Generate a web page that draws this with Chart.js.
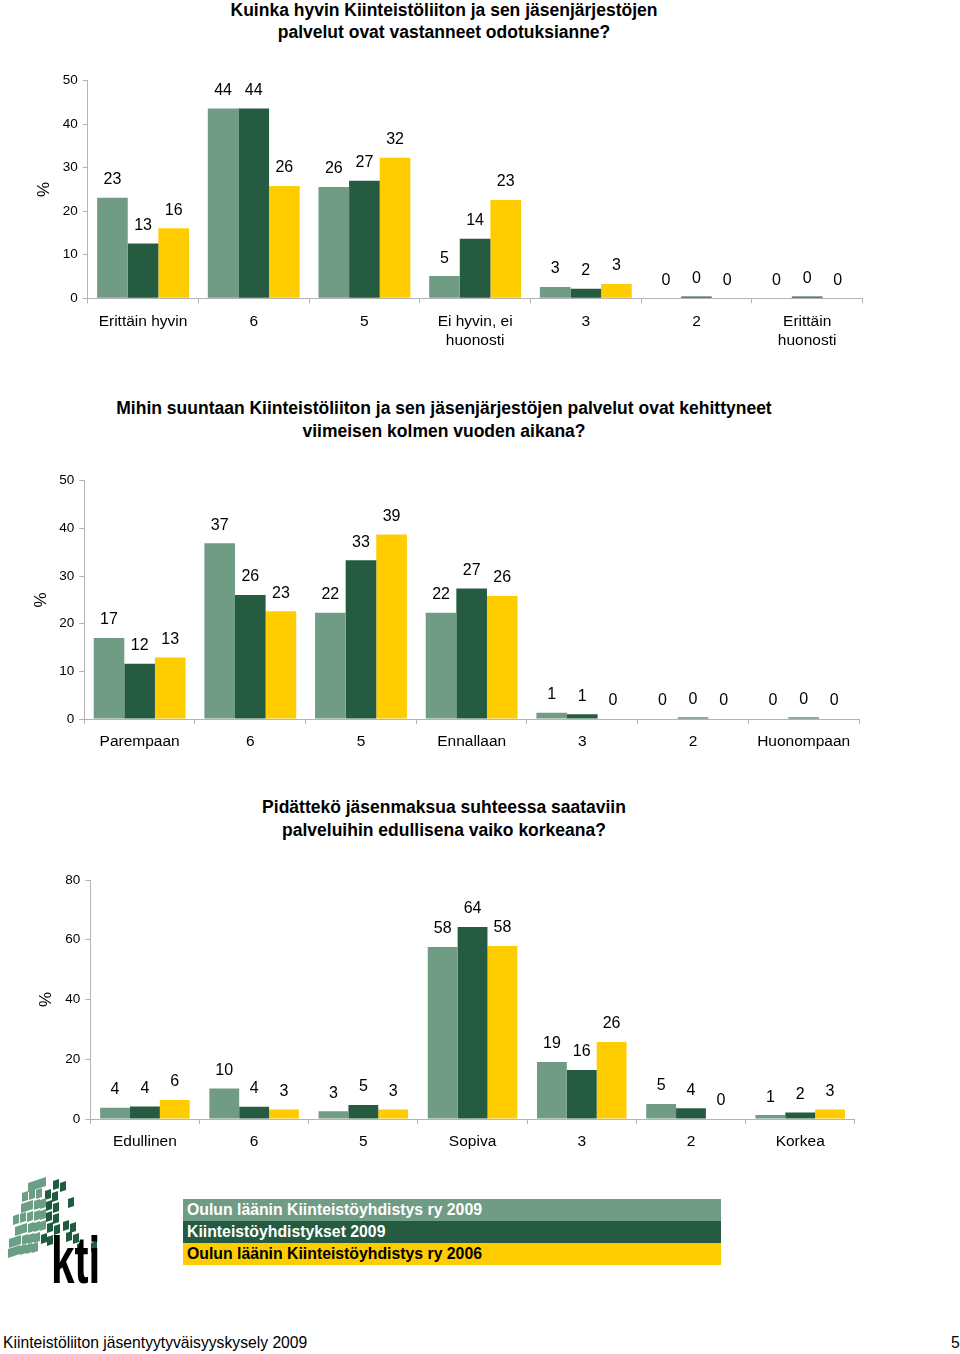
<!DOCTYPE html>
<html>
<head>
<meta charset="utf-8">
<script src="https://cdn.jsdelivr.net/npm/chart.js@4.4.0/dist/chart.umd.min.js"></script>
<style>
  body { margin: 0; background: #fff; width: 960px; height: 1354px; position: relative; overflow: hidden; font-family: "Liberation Sans", Arial, sans-serif; }
  .title { position: absolute; left: 0; width: 888px; text-align: center; font: bold 17.5px "Liberation Sans Narrow", "Arial Narrow", "Liberation Sans", sans-serif; line-height: 23px; color: #000; }
  .box { position: absolute; left: 0; }
  .legend { position: absolute; left: 183px; top: 1199px; width: 538px; }
  .legend div { height: 20px; padding-top: 2px; line-height: 22px; padding-left: 4px; font: bold 15.8px "Liberation Sans Narrow", "Arial Narrow", "Liberation Sans", sans-serif; overflow: hidden; }
  .logo { position: absolute; left: 0; top: 1170px; width: 110px; height: 120px; }
  .logo span { position: absolute; width: 6px; height: 9px; transform: skewY(-20deg); }
  .kti { position: absolute; left: 51px; top: 1227px; font: bold 66px "Liberation Sans Narrow", "Arial Narrow", "Liberation Sans", sans-serif; line-height: 66px; color: #000; transform: scaleX(0.64); transform-origin: left top; }
  .footer { position: absolute; top: 1334px; font: 15.7px "Liberation Sans Narrow", "Arial Narrow", "Liberation Sans", sans-serif; color: #000; }
</style>
</head>
<body>

<div class="title" style="top:-1px;line-height:22px">Kuinka hyvin Kiinteistöliiton ja sen jäsenjärjestöjen<br>palvelut ovat vastanneet odotuksianne?</div>
<div class="box" style="top:60px"><canvas id="chart1" width="870" height="300"></canvas></div>

<div class="title" style="top:397px">Mihin suuntaan Kiinteistöliiton ja sen jäsenjärjestöjen palvelut ovat kehittyneet<br>viimeisen kolmen vuoden aikana?</div>
<div class="box" style="top:460px"><canvas id="chart2" width="870" height="304"></canvas></div>

<div class="title" style="top:796px">Pidättekö jäsenmaksua suhteessa saataviin<br>palveluihin edullisena vaiko korkeana?</div>
<div class="box" style="top:860px"><canvas id="chart3" width="870" height="304"></canvas></div>

<div class="logo" id="logo"></div>
<div class="kti">kti</div>

<div class="legend">
  <div style="background:#709c86;color:#fff">Oulun läänin Kiinteistöyhdistys ry 2009</div>
  <div style="background:#245b41;color:#fff">Kiinteistöyhdistykset 2009</div>
  <div style="background:#ffcc00;color:#000">Oulun läänin Kiinteistöyhdistys ry 2006</div>
</div>

<div class="footer" style="left:3px">Kiinteistöliiton jäsentyytyväisyyskysely 2009</div>
<div class="footer" style="left:951px">5</div>

<script>
  var seriesNames = [
    'Oulun läänin Kiinteistöyhdistys ry 2009',
    'Kiinteistöyhdistykset 2009',
    'Oulun läänin Kiinteistöyhdistys ry 2006'
  ];
  var colors = ['#709c86', '#245b41', '#ffcc00'];

  // Kuinka hyvin ... vastanneet odotuksianne?
  var labels1 = ['Erittäin hyvin', '6', '5', ['Ei hyvin, ei', 'huonosti'], '3', '2', ['Erittäin', 'huonosti']];
  var oulu2009_1 = [23.1, 43.6, 25.6, 5.1, 2.6, 0, 0];
  var kaikki2009_1 = [12.6, 43.6, 27.0, 13.7, 2.2, 0.4, 0.4];
  var oulu2006_1 = [16.1, 25.8, 32.3, 22.6, 3.3, 0, 0];

  // Mihin suuntaan ... kehittyneet?
  var labels2 = ['Parempaan', '6', '5', 'Ennallaan', '3', '2', 'Huonompaan'];
  var oulu2009_2 = [17.0, 36.9, 22.3, 22.3, 1.3, 0, 0];
  var kaikki2009_2 = [11.6, 26.0, 33.3, 27.4, 1.0, 0.3, 0.3];
  var oulu2006_2 = [12.9, 22.6, 38.7, 25.8, 0, 0, 0];

  // Pidättekö jäsenmaksua ... edullisena vaiko korkeana?
  var labels3 = ['Edullinen', '6', '5', 'Sopiva', '3', '2', 'Korkea'];
  var oulu2009_3 = [3.8, 10.2, 2.6, 57.6, 19.1, 5.0, 1.3];
  var kaikki2009_3 = [4.2, 4.1, 4.7, 64.3, 16.4, 3.6, 2.2];
  var oulu2006_3 = [6.4, 3.2, 3.2, 57.9, 25.8, 0, 3.2];

  Chart.defaults.font.family = '"Liberation Sans", Arial, sans-serif';
  Chart.defaults.color = '#000';

  // arvot pylväiden yläpuolelle
  var valueLabels = {
    id: 'valueLabels',
    afterDatasetsDraw: function (chart) {
      var ctx = chart.ctx;
      ctx.save();
      ctx.font = '16px "Liberation Sans", Arial, sans-serif';
      ctx.fillStyle = '#000';
      ctx.textAlign = 'center';
      ctx.textBaseline = 'middle';
      chart.data.datasets.forEach(function (ds, i) {
        chart.getDatasetMeta(i).data.forEach(function (bar, j) {
          ctx.fillText(Math.round(ds.data[j]), bar.x, bar.y - 18);
        });
      });
      ctx.restore();
    }
  };

  function makeChart(id, labels, series, yMax, yStep, axisLeft, padRight, padTop, catPct, titlePad, xHeight) {
    return new Chart(id, {
      type: 'bar',
      data: {
        labels: labels,
        datasets: series.map(function (s, i) {
          return { label: seriesNames[i], data: s, backgroundColor: colors[i], borderWidth: 0 };
        })
      },
      options: {
        responsive: false,
        animation: false,
        devicePixelRatio: 1,
        layout: { padding: { left: 0, right: padRight, top: padTop, bottom: 0 } },
        plugins: { legend: { display: false }, tooltip: { enabled: false } },
        datasets: { bar: { barPercentage: 1.0, categoryPercentage: catPct } },
        scales: {
          x: {
            grid: { display: true, drawOnChartArea: false, drawTicks: true, tickLength: 5, color: '#b4b4b4', offset: true },
            border: { display: true, color: '#b4b4b4' },
            ticks: { font: { size: 15.5, lineHeight: 1.28 }, color: '#000', padding: 8, maxRotation: 0, autoSkip: false },
            afterFit: function (scale) { scale.height = xHeight; }
          },
          y: {
            min: 0,
            max: yMax,
            ticks: { stepSize: yStep, font: { size: 13.5 }, color: '#000', padding: 5 },
            grid: { display: true, drawOnChartArea: false, drawTicks: true, tickLength: 5, color: '#b4b4b4' },
            border: { display: true, color: '#b4b4b4' },
            title: { display: true, text: '%', font: { size: 17 }, color: '#000', padding: { top: titlePad, bottom: 0 } },
            afterFit: function (scale) { scale.width = axisLeft; }
          }
        }
      },
      plugins: [valueLabels]
    });
  }

  makeChart('chart1', labels1, [oulu2009_1, kaikki2009_1, oulu2006_1], 50, 10, 87.7, 7.5, 20.7, 0.83, 34, 61.7);
  makeChart('chart2', labels2, [oulu2009_2, kaikki2009_2, oulu2006_2], 50, 10, 84.3, 11, 20.7, 0.83, 31, 45);
  makeChart('chart3', labels3, [oulu2009_3, kaikki2009_3, oulu2006_3], 80, 20, 90.3, 15.2, 20, 0.82, 36, 45);

  // kti-logo: neliöt
  var logoCells = [
    [28, 12, 0], [34, 10, 0], [40, 8, 0], [53, 10, 1], [60, 12, 1],
    [22, 22, 0], [29, 20, 0], [36, 19, 0], [45, 20, 1], [52, 22, 1], [68, 28, 1],
    [21, 33, 0], [27, 31, 0], [34, 30, 0], [40, 29, 0], [46, 31, 1], [53, 33, 1],
    [13, 45, 0], [20, 43, 0], [27, 42, 0], [34, 41, 0], [40, 40, 0], [46, 42, 1], [53, 44, 1],
    [15, 56, 0], [21, 54, 0], [28, 53, 0], [34, 52, 0], [40, 51, 0], [47, 53, 1], [54, 55, 1], [63, 51, 1], [70, 53, 1],
    [9, 68, 0], [15, 66, 0], [22, 65, 0], [28, 64, 0], [34, 63, 0], [41, 64, 1], [47, 66, 1], [66, 62, 1], [73, 64, 1],
    [8, 78, 0], [14, 76, 0], [20, 75, 0], [26, 74, 0], [32, 73, 0], [77, 73, 1], [91, 72, 1]
  ];
  var logo = document.getElementById('logo');
  logoCells.forEach(function (c) {
    var s = document.createElement('span');
    s.style.left = c[0] + 'px';
    s.style.top = c[1] + 'px';
    s.style.background = c[2] ? '#1f5c3f' : '#6a9f86';
    logo.appendChild(s);
  });
</script>
</body>
</html>
